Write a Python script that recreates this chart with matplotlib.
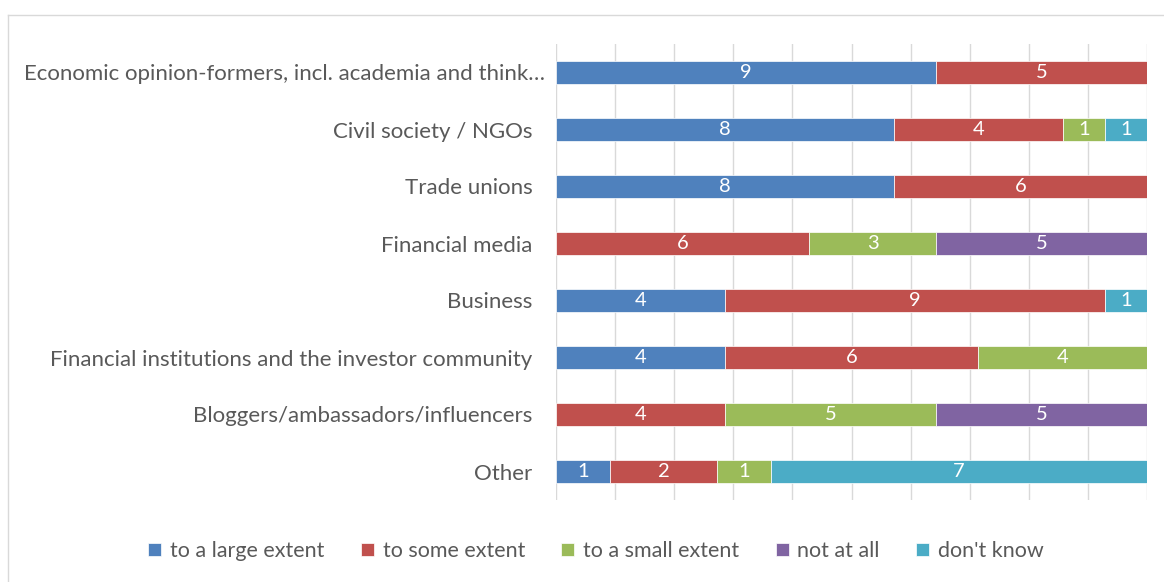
import matplotlib
matplotlib.use("Agg")
import matplotlib.pyplot as plt
import matplotlib.transforms as mtransforms
import numpy as np
from matplotlib.lines import Line2D

categories = [
    "Economic opinion-formers, incl. academia and think\u2026",
    "Civil society / NGOs",
    "Trade unions",
    "Financial media",
    "Business",
    "Financial institutions and the investor community",
    "Bloggers/ambassadors/influencers",
    "Other",
]

series_names = ["to a large extent", "to some extent", "to a small extent",
                "not at all", "don't know"]

large_extent = [9, 8, 8, 0, 4, 4, 0, 1]
some_extent = [5, 4, 6, 6, 9, 6, 4, 2]
small_extent = [0, 1, 0, 3, 0, 4, 5, 1]
not_at_all = [0, 0, 0, 5, 0, 0, 5, 0]
dont_know = [0, 1, 0, 0, 1, 0, 0, 7]

colors = ["#4F81BD", "#C0504D", "#9BBB59", "#8064A2", "#4BACC6"]

plt.rcParams["font.family"] = ["Lato", "DejaVu Sans"]

counts = np.array([large_extent, some_extent, small_extent, not_at_all, dont_know], dtype=float)
totals = counts.sum(axis=0)
shares = counts / totals * 100

fig = plt.figure(figsize=(11.64, 5.82), dpi=100)
ax = fig.add_axes([556 / 1164, 1 - 500 / 582, 591 / 1164, 456 / 582])

y = np.arange(len(categories))
left = np.zeros(len(categories))
for name, share, cnt, col in zip(series_names, shares, counts, colors):
    bars = ax.barh(y, share, left=left, height=0.4, color=col, label=name,
                   edgecolor="white", linewidth=0.5, zorder=3)
    for b, c in zip(bars, cnt):
        if c > 0:
            ax.text(b.get_x() + b.get_width() / 2, b.get_y() + b.get_height() / 2,
                    f"{int(c)}", ha="center", va="center", color="white",
                    fontsize=14.5, zorder=4)
    left += share

ax.set_xlim(0, 100)
ax.set_ylim(len(categories) - 0.5, -0.5)
ax.set_xticks(np.arange(0, 101, 10))
ax.set_xticklabels([])
ax.tick_params(axis="x", length=0)
ax.grid(axis="x", color="#D9D9D9", linewidth=1.0, zorder=0)
ax.set_yticks(y)
ax.set_yticklabels(categories, fontsize=16, color="#595959")
ax.tick_params(axis="y", length=0, pad=17)
for s in ax.spines.values():
    s.set_visible(False)

# the truncated first label sits a little closer to the axis
first = ax.get_yticklabels()[0]
first.set_transform(first.get_transform() +
                    mtransforms.ScaledTranslation(13 / 100, 0, fig.dpi_scale_trans))

leg = fig.legend(loc="center", bbox_to_anchor=(596 / 1164, 1 - 551 / 582), ncol=5,
                 frameon=False, fontsize=15.5, handlelength=0.6, handleheight=0.6,
                 handletextpad=0.4, columnspacing=1.7, labelcolor="#595959")

# chart area frame edges
fig.add_artist(Line2D([7.5 / 1164, 7.5 / 1164], [0, 1 - 14.5 / 582],
                      transform=fig.transFigure, color="#D9D9D9", linewidth=1.0))
fig.add_artist(Line2D([7.5 / 1164, 1], [1 - 14.5 / 582, 1 - 14.5 / 582],
                      transform=fig.transFigure, color="#D9D9D9", linewidth=1.0))

fig.savefig("out.png", dpi=100, facecolor="white")
